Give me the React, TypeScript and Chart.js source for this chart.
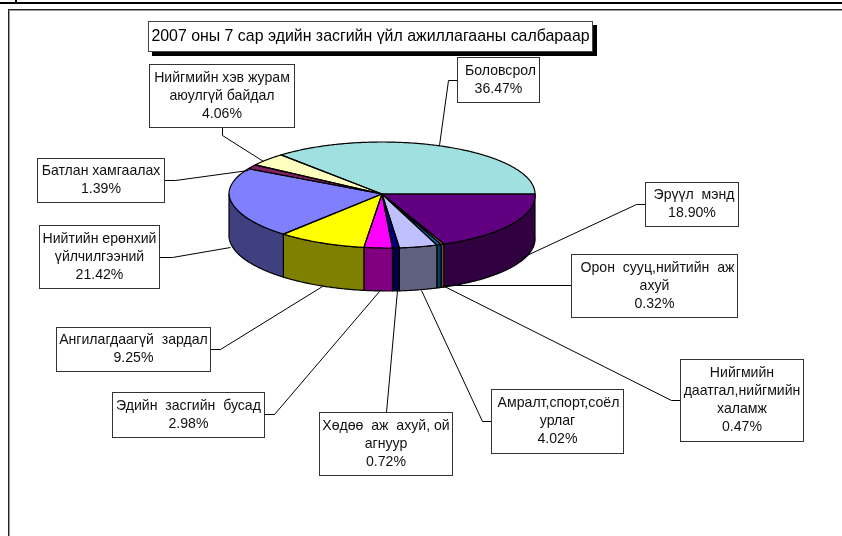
import React, { useEffect, useRef } from "react";
import { Chart, registerables } from "chart.js";

Chart.register(...registerables);

const titleText = "2007 оны 7 сар эдийн засгийн үйл ажиллагааны салбараар";
const categories = [
  ["Боловсрол"],
  ["Эрүүл  мэнд"],
  ["Орон  сууц,нийтийн  аж", "ахуй"],
  ["Нийгмийн", "даатгал,нийгмийн", "халамж"],
  ["Амралт,спорт,соёл", "урлаг"],
  ["Хөдөө  аж  ахуй, ой", "агнуур"],
  ["Эдийн  засгийн  бусад"],
  ["Ангилагдаагүй  зардал"],
  ["Нийтийн ерөнхий", "үйлчилгээний"],
  ["Батлан хамгаалах"],
  ["Нийгмийн хэв журам", "аюулгүй байдал"],
];
const values = [36.47, 18.9, 0.32, 0.47, 4.02, 0.72, 2.98, 9.25, 21.42, 1.39, 4.06];
const topColors = ["#A0E0E0", "#600080", "#FF8080", "#0080C0", "#C0C0FF", "#000080", "#FF00FF", "#FFFF00", "#8080FF", "#802060", "#FFFFC0"];
const sideColors = ["#507070", "#300040", "#804040", "#004060", "#606080", "#000040", "#800080", "#808000", "#404080", "#401030", "#808060"];

// label boxes: x0, y0, x1, y1; leader polyline points; horizontal text nudge
const boxes = [
  [457, 57, 539, 102],
  [645, 182, 738, 226],
  [571, 254, 737, 317],
  [680, 359, 803, 441],
  [491, 389, 623, 453],
  [319, 412, 452, 475],
  [112, 392, 264, 437],
  [56, 327, 210, 371],
  [39, 225, 159, 288],
  [37, 158, 164, 202],
  [149, 64, 294, 127],
];
const textNudge = [2, 2, 3, 0, 1, 0, 0, 0, 0, 0, 0];
const leaders = [
  [[457, 80], [448, 80], [439, 145]],
  [[645, 204], [636, 204], [520, 258]],
  [[571, 285], [444, 285]],
  [[680, 400], [671, 400], [444, 286]],
  [[491, 421], [482, 421], [421, 290]],
  [[386, 412], [397, 290]],
  [[264, 414], [274, 414], [379, 291]],
  [[210, 349], [220, 349], [322, 286]],
  [[159, 257], [172, 257], [230, 247]],
  [[164, 180], [175, 180], [248, 170]],
  [[222, 127], [222, 135], [263, 161]],
];

const K_BACK = 52 / 153;
const K_FRONT = 54 / 153;
const SHEAR = 5 / 153;
const DEPTH = 43;

const pie3d = {
  id: "pie3d",
  beforeDatasetsDraw(chart: any) {
    const ctx = chart.ctx as CanvasRenderingContext2D;
    const arcs = chart.getDatasetMeta(0).data as any[];
    const { x: cx, y: cy, outerRadius: R } = arcs[0];
    const project = (a: number, dy = 0) => {
      const s = Math.sin(a);
      const c = Math.cos(a);
      return s >= 0
        ? [cx + R * c + SHEAR * R * s, cy + R * s * K_FRONT + dy]
        : [cx + R * c, cy + R * s * K_BACK + dy];
    };
    const sample = (a0: number, a1: number, dy = 0) => {
      const pts: number[][] = [];
      const n = Math.max(2, Math.ceil(Math.abs(a1 - a0) / 0.01));
      for (let i = 0; i <= n; i++) pts.push(project(a0 + ((a1 - a0) * i) / n, dy));
      return pts;
    };
    const trace = (pts: number[][], move = true) => {
      pts.forEach((p, i) => (i === 0 && move ? ctx.moveTo(p[0], p[1]) : ctx.lineTo(p[0], p[1])));
    };

    ctx.save();
    ctx.lineWidth = 1.2;
    ctx.strokeStyle = "#000";
    ctx.lineJoin = "round";

    // side wall
    arcs.forEach((el, i) => {
      const tau = Math.PI * 2;
      const k = Math.floor((el.startAngle + 0.001) / tau);
      const a0 = el.startAngle - k * tau;
      const a1 = el.endAngle - k * tau;
      const s = Math.max(a0, 0);
      const e = Math.min(a1, Math.PI);
      if (e <= s) return;
      ctx.beginPath();
      trace(sample(s, e));
      trace(sample(e, s, DEPTH), false);
      ctx.closePath();
      ctx.fillStyle = sideColors[i];
      ctx.fill();
      ctx.stroke();
    });

    // top face: drawn by the library's arc elements, projected
    const h = chart.height;
    const w = chart.width;
    ctx.save();
    ctx.beginPath();
    ctx.rect(0, 0, w, cy + 0.25);
    ctx.clip();
    ctx.transform(1, 0, 0, K_BACK, 0, cy - K_BACK * cy);
    arcs.forEach((el) => el.draw(ctx));
    ctx.restore();
    ctx.save();
    ctx.beginPath();
    ctx.rect(0, cy, w, h - cy);
    ctx.clip();
    ctx.transform(1, 0, SHEAR, K_FRONT, -SHEAR * cy, cy - K_FRONT * cy);
    arcs.forEach((el) => el.draw(ctx));
    ctx.restore();

    // outlines
    arcs.forEach((el) => {
      ctx.beginPath();
      ctx.moveTo(cx, cy);
      trace(sample(el.startAngle, el.endAngle), false);
      ctx.closePath();
      ctx.stroke();
    });
    ctx.restore();
    return false;
  },
  afterDraw(chart: any) {
    const ctx = chart.ctx as CanvasRenderingContext2D;
    ctx.save();
    // page frame
    ctx.fillStyle = "#000";
    ctx.fillRect(0, 2, 842, 2);
    ctx.fillRect(15, 0, 2, 3);
    ctx.fillStyle = "#222";
    ctx.fillRect(8, 9, 834, 1);
    ctx.fillRect(8, 9, 1, 527);
    ctx.fillStyle = "#999";
    ctx.fillRect(9, 10, 833, 1);
    ctx.fillRect(9, 10, 1, 526);

    // title
    ctx.fillStyle = "#000";
    ctx.fillRect(152, 25, 445, 31);
    ctx.fillStyle = "#fff";
    ctx.fillRect(148, 21, 445, 31);
    ctx.strokeStyle = "#444";
    ctx.lineWidth = 1;
    ctx.strokeRect(148.5, 21.5, 444, 30);
    ctx.fillStyle = "#000";
    ctx.textAlign = "center";
    ctx.textBaseline = "middle";
    ctx.font = '15.9px "Liberation Sans", Arial, sans-serif';
    ctx.fillText(titleText, 370.5, 36.5);

    // leaders
    ctx.strokeStyle = "#000";
    ctx.lineWidth = 1;
    leaders.forEach((line) => {
      ctx.beginPath();
      line.forEach((p, i) => (i === 0 ? ctx.moveTo(p[0] + 0.5, p[1] + 0.5) : ctx.lineTo(p[0] + 0.5, p[1] + 0.5)));
      ctx.stroke();
    });

    // data labels
    ctx.font = '14.1px "Liberation Sans", Arial, sans-serif';
    boxes.forEach(([x0, y0, x1, y1], i) => {
      ctx.fillStyle = "#fff";
      ctx.fillRect(x0, y0, x1 - x0, y1 - y0);
      ctx.strokeStyle = "#333";
      ctx.strokeRect(x0 + 0.5, y0 + 0.5, x1 - x0, y1 - y0);
      const lines = [...categories[i], values[i].toFixed(2) + "%"];
      const cxText = (x0 + x1) / 2 + 0.5;
      const cyText = (y0 + y1) / 2 + 0.5;
      ctx.fillStyle = "#111";
      lines.forEach((t, j) => {
        // only the first (wider) line needs the nudge to sit as in the source
        ctx.fillText(t, cxText + (j === 0 ? textNudge[i] : 0), cyText + (j - (lines.length - 1) / 2) * 18);
      });
    });
    ctx.restore();
  },
};

export default function App() {
  const ref = useRef<HTMLCanvasElement>(null);
  useEffect(() => {
    document.body.style.margin = "0";
    document.body.style.background = "#fff";
    const chart = new Chart(ref.current as HTMLCanvasElement, {
      type: "pie",
      data: {
        labels: categories.map((c) => c.join(" ")),
        datasets: [{ data: values, backgroundColor: topColors, borderWidth: 0 }],
      },
      options: {
        responsive: false,
        animation: false,
        rotation: -41.3,
        layout: { padding: { left: 229, right: 307, top: 41, bottom: 189 } },
        plugins: { legend: { display: false }, tooltip: { enabled: false }, title: { display: false } },
      },
      plugins: [pie3d],
    } as any);
    return () => chart.destroy();
  }, []);
  return <canvas ref={ref} width={842} height={536} style={{ display: "block" }} />;
}
